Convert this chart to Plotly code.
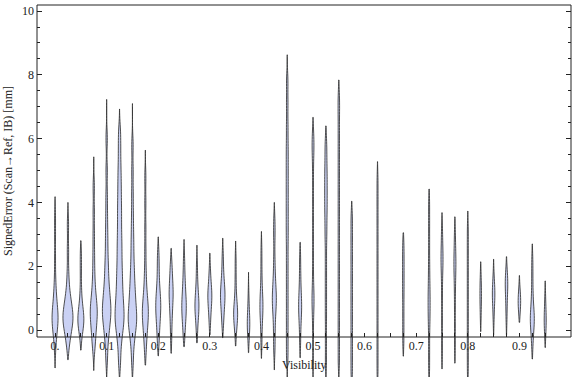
import plotly.graph_objects as go

# ---------------- data ----------------
visibility = [0.000, 0.025, 0.050, 0.075, 0.100, 0.125, 0.150, 0.175, 0.200, 0.225,
              0.250, 0.275, 0.300, 0.325, 0.350, 0.375, 0.400, 0.425, 0.450, 0.475,
              0.500, 0.525, 0.550, 0.575, 0.625, 0.675, 0.725, 0.750, 0.775, 0.800,
              0.825, 0.850, 0.875, 0.900, 0.925, 0.950]

# extent of each violin (signed error, mm)
lower = [-1.19, -0.93, -0.63, -1.27, -1.80, -1.80, -1.80, -1.10, -0.81, -0.73,
         -0.52, -0.40, -0.15, -0.24, -0.50, -0.71, -0.89, -1.25, -1.80, -0.87,
         -1.80, -1.80, -1.80, -1.80, -1.80, -0.82, -1.80, -1.22, -1.04, -1.80,
         -0.05, -0.16, -0.16, 0.24, -0.91, -0.55]
upper = [4.18, 4.00, 2.80, 5.43, 7.23, 6.93, 7.10, 5.64, 2.92, 2.56,
         2.84, 2.66, 2.41, 2.88, 2.79, 1.81, 3.09, 4.00, 8.63, 2.75,
         6.67, 6.40, 7.84, 4.04, 5.28, 3.05, 4.42, 3.68, 3.55, 3.73,
         2.14, 2.22, 2.30, 1.71, 2.70, 1.54]

# representative sample values of each distribution (mm)
samples = [
    [-0.6, -0.25, -0.1, 0.05, 0.15, 0.25, 0.3, 0.4, 0.45, 0.55, 0.65, 0.75, 0.9, 1.1, 1.3, 1.7, 2.3, 3.0, 3.6],
    [-0.5, -0.25, -0.1, 0.05, 0.15, 0.25, 0.3, 0.35, 0.45, 0.5, 0.6, 0.7, 0.8, 0.95, 1.1, 1.35, 1.8, 2.5, 3.3],
    [-0.2, 0.05, 0.15, 0.25, 0.3, 0.35, 0.45, 0.55, 0.7, 0.9, 1.3, 1.9, 2.4],
    [-0.6, -0.3, -0.1, 0.1, 0.25, 0.4, 0.5, 0.6, 0.7, 0.85, 1.0, 1.2, 1.5, 1.9, 2.4, 3.0, 3.7, 4.5],
    [-0.9, -0.4, -0.15, 0.05, 0.2, 0.35, 0.45, 0.55, 0.65, 0.75, 0.85, 1.0, 1.15, 1.3, 1.5, 1.75,
     2.0, 2.3, 2.7, 3.1, 3.6, 4.2, 5.0, 6.0],
    [-1.0, -0.5, -0.2, 0.0, 0.15, 0.3, 0.4, 0.5, 0.65, 0.8, 0.95, 1.1, 1.3, 1.5, 1.7, 1.9, 2.15,
     2.4, 2.65, 2.9, 3.2, 3.5, 3.8, 4.1, 4.45, 4.8, 5.2, 5.7, 6.2],
    [-1.0, -0.5, -0.25, -0.05, 0.1, 0.2, 0.3, 0.4, 0.5, 0.6, 0.75, 0.9, 1.05, 1.2, 1.4, 1.6, 1.85,
     2.1, 2.45, 2.8, 3.2, 3.7, 4.3, 5.0, 5.8],
    [-0.7, -0.3, -0.1, 0.1, 0.25, 0.4, 0.5, 0.6, 0.7, 0.85, 1.0, 1.2, 1.5, 1.9, 2.5, 3.2, 4.0, 4.8],
    [-0.4, -0.05, 0.2, 0.4, 0.55, 0.7, 0.8, 0.95, 1.1, 1.3, 1.6, 2.0, 2.4],
    [-0.3, 0.2, 0.5, 0.75, 0.95, 1.1, 1.2, 1.35, 1.55, 1.8, 2.1],
    [-0.2, 0.15, 0.35, 0.55, 0.7, 0.8, 0.95, 1.15, 1.4, 1.7, 2.2],
    [-0.1, 0.3, 0.5, 0.65, 0.75, 0.85, 1.0, 1.2, 1.5, 2.0],
    [0.2, 0.55, 0.8, 0.95, 1.05, 1.15, 1.3, 1.5, 1.9],
    [0.2, 0.5, 0.75, 0.95, 1.05, 1.15, 1.3, 1.5, 1.8, 2.3],
    [-0.1, 0.2, 0.35, 0.45, 0.55, 0.65, 0.8, 1.1, 1.6, 2.2],
    [-0.3, -0.05, 0.1, 0.2, 0.3, 0.45, 0.7, 1.1],
    [-0.4, 0.1, 0.4, 0.6, 0.75, 0.9, 1.1, 1.4, 1.9, 2.5],
    [-0.6, -0.1, 0.35, 0.65, 0.85, 1.0, 1.15, 1.4, 1.7, 2.2, 2.9, 3.4],
    [-0.8, -0.2, 0.4, 1.0, 1.6, 2.2, 2.8, 3.3, 3.8, 4.3, 4.8, 5.3, 5.8, 6.4, 7.1, 7.8],
    [-0.4, 0.1, 0.4, 0.6, 0.75, 0.9, 1.1, 1.4, 1.8, 2.3],
    [-1.0, -0.3, 0.3, 0.7, 0.9, 1.1, 1.4, 1.9, 2.5, 3.1, 3.7, 4.3, 4.9, 5.4, 5.7, 5.9, 6.2],
    [-1.0, -0.3, 0.4, 1.0, 1.6, 2.2, 2.8, 3.2, 3.6, 3.9, 4.2, 4.5, 4.8, 5.1, 5.5, 5.9],
    [-1.0, -0.4, 0.2, 0.8, 1.4, 2.0, 2.6, 3.2, 3.8, 4.4, 5.0, 5.6, 6.2, 6.8, 7.3],
    [-1.3, -0.7, -0.1, 0.5, 1.1, 1.7, 2.3, 2.9, 3.5],
    [-1.3, -0.7, -0.1, 0.5, 1.1, 1.7, 2.3, 2.9, 3.5, 4.1, 4.7],
    [-0.4, 0.1, 0.6, 1.1, 1.5, 1.9, 2.3, 2.7],
    [-1.2, -0.6, 0.0, 0.4, 0.7, 1.0, 1.3, 1.7, 2.2, 2.8, 3.4, 4.0],
    [-0.8, -0.2, 0.4, 1.0, 1.5, 1.9, 2.1, 2.3, 2.5, 2.8, 3.2],
    [-0.6, 0.0, 0.6, 1.1, 1.5, 1.8, 2.0, 2.2, 2.4, 2.7, 3.1],
    [-1.3, -0.8, -0.3, 0.2, 0.7, 1.2, 1.7, 2.2, 2.7, 3.2],
    [0.3, 0.6, 0.85, 1.0, 1.15, 1.3, 1.5, 1.75],
    [0.3, 0.65, 0.9, 1.05, 1.15, 1.25, 1.4, 1.7],
    [0.3, 0.7, 1.0, 1.25, 1.4, 1.5, 1.65, 1.85],
    [0.55, 0.75, 0.85, 0.9, 0.95, 1.05, 1.25],
    [-0.5, -0.1, 0.1, 0.25, 0.35, 0.45, 0.6, 0.85, 1.2, 1.7, 2.2],
    [-0.2, 0.05, 0.2, 0.3, 0.4, 0.55, 0.8, 1.1],
]

x_tick_values = [i * 0.025 for i in range(39)]
x_tick_labels = {0: "0.", 4: "0.1", 8: "0.2", 12: "0.3", 16: "0.4",
                 20: "0.5", 24: "0.6", 28: "0.7", 32: "0.8", 36: "0.9"}
y_major = [0, 2, 4, 6, 8, 10]
y_minor = [0.5 * k for k in range(21) if k % 4 != 0]

# ---------------- style ----------------
W, H = 576, 377
ML, MR, MT, MB = 37, 5, 5, 0
XR = [-0.035, 1.0]
YR = [-1.473, 10.19]
frame_bottom = -0.219
px_per_x = (W - ML - MR) / (XR[1] - XR[0])
# maximum width of each violin body, in pixels
peak_px = [6, 10, 6, 7, 8.5, 9, 8.5, 6, 5, 4,
           4.5, 4, 4, 4.5, 4, 2.5, 3, 4, 2, 3,
           2, 2.5, 1.5, 1.5, 1, 1.5, 2, 2, 2, 1,
           1.5, 2.5, 2.5, 2.5, 4, 2]
KDE_BW = 0.3
FILL = "#cad1f4"
EDGE = "rgba(50,50,50,0.85)"
FONT = "Liberation Serif"

fig = go.Figure()
for i, pos in enumerate(visibility):
    fig.add_trace(go.Violin(
        x0=pos, y=samples[i], orientation="v",
        spanmode="manual", span=[lower[i], upper[i]],
        bandwidth=KDE_BW,
        scalemode="width", scalegroup=f"g{i}",
        width=peak_px[i] / px_per_x,
        fillcolor=FILL, line=dict(color=EDGE, width=1),
        points=False, box_visible=False, meanline_visible=False,
        showlegend=False, hoverinfo="skip",
    ))

frame_y0 = (frame_bottom - YR[0]) / (YR[1] - YR[0])

fig.update_layout(
    width=W, height=H, margin=dict(l=ML, r=MR, t=MT, b=MB),
    paper_bgcolor="white", plot_bgcolor="white",
    violinmode="overlay",
    font=dict(family=FONT, size=12, color="#222"),
    xaxis=dict(range=XR, anchor="free", position=frame_y0,
               tickvals=x_tick_values,
               ticktext=[x_tick_labels.get(i, "") for i in range(len(x_tick_values))],
               ticks="inside", ticklen=4, tickcolor="#222", tickwidth=1,
               mirror="ticks", showline=False, showgrid=False, zeroline=False,
               tickfont=dict(family=FONT, size=12, color="#222")),
    yaxis=dict(range=YR, tickvals=y_major, ticks="inside", ticklen=5,
               tickcolor="#222", tickwidth=1, mirror="ticks",
               showline=False, showgrid=False, zeroline=False,
               ticklabelstandoff=2,
               minor=dict(tickvals=y_minor, ticks="inside", ticklen=3,
                          tickcolor="#222", tickwidth=1, showgrid=False),
               tickfont=dict(family=FONT, size=12, color="#222")),
    shapes=[dict(type="rect", xref="paper", yref="paper",
                 x0=0, x1=1, y0=frame_y0, y1=1,
                 line=dict(color="#222", width=1), layer="above")],
    annotations=[
        dict(text="SignedError (Scan→Ref, IB) [mm]", textangle=-90,
             xref="paper", x=(8 - ML) / (W - ML - MR), xanchor="center",
             yref="y", y=(frame_bottom + YR[1]) / 2, yanchor="middle",
             showarrow=False, font=dict(family=FONT, size=12, color="#222")),
        dict(text="Visibility", xref="paper", x=0.5, xanchor="center",
             yref="y", y=-1.097, yanchor="middle",
             showarrow=False, font=dict(family=FONT, size=12, color="#222")),
    ],
)

fig.write_html("out.html",
               config={"displayModeBar": False},
               post_script="document.body.style.margin='0';"
                           "document.body.style.overflow='hidden';")
